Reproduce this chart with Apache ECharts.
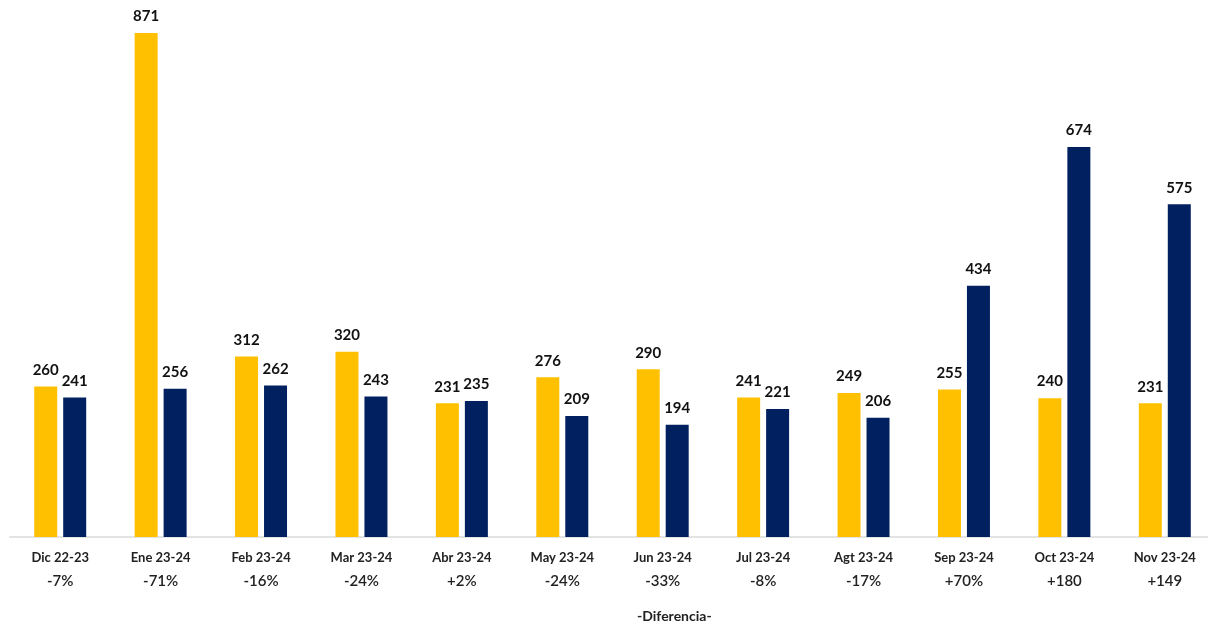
<!DOCTYPE html>
<html><head><meta charset="utf-8">
<script src="https://cdn.jsdelivr.net/npm/echarts@6/dist/echarts.min.js"></script>
<style>html,body{margin:0;padding:0;background:#fff;overflow:hidden}#c{width:1216px;height:627px}</style>
</head><body><div id="c"></div>
<script>
const categories = ["Dic 22-23","Ene 23-24","Feb 23-24","Mar 23-24","Abr 23-24","May 23-24","Jun 23-24","Jul 23-24","Agt 23-24","Sep 23-24","Oct 23-24","Nov 23-24"];
const diffLabels = ["-7%","-71%","-16%","-24%","+2%","-24%","-33%","-8%","-17%","+70%","+180","+149"];
const seriesPrev = [260,871,312,320,231,276,290,241,249,255,240,231];
const seriesCurr = [241,256,262,243,235,209,194,221,206,434,674,575];
const footerTitle = "-Diferencia-";

const FONT = "Lato, 'Open Sans', sans-serif";
const chart = echarts.init(document.getElementById('c'));
const labelStyle = {show:true, position:'top', distance:9, color:'#111', fontFamily:FONT, fontWeight:'bold', fontSize:15};
chart.setOption({
  animation:false,
  textStyle:{fontFamily:FONT},
  grid:{left:10, top:33, right:1, bottom:90},
  xAxis:{type:'category', data:categories,
    axisLine:{lineStyle:{color:'#e3e3e3', width:2}},
    axisTick:{show:false},
    axisLabel:{interval:0, margin:10,
      formatter:(v,i)=>'{a|'+v+'}\n{b|'+diffLabels[i]+'}',
      rich:{a:{fontFamily:FONT,fontWeight:'bold',fontSize:13,color:'#222',lineHeight:22},
            b:{fontFamily:FONT,fontWeight:600,fontSize:15,color:'#222',lineHeight:24}}}},
  yAxis:{type:'value', min:0, max:871, show:false, splitLine:{show:false}},
  series:[
    {type:'bar', data:seriesPrev, barWidth:23, barGap:'26%', itemStyle:{color:'#FFC000'}, label:labelStyle},
    {type:'bar', data:seriesCurr, barWidth:23, itemStyle:{color:'#002060'}, label:labelStyle}
  ],
  graphic:[{type:'text', left:637, top:609, style:{text:footerTitle, font:"bold 14px "+FONT, fill:'#222'}}]
});
</script></body></html>
